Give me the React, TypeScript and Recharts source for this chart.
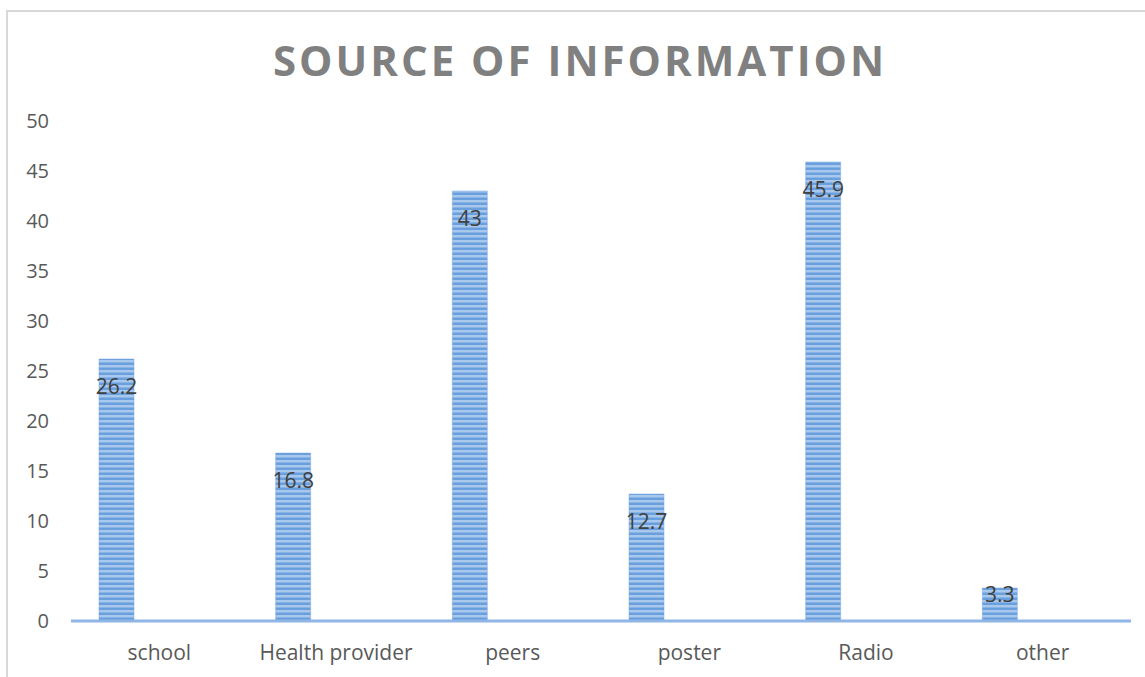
import React from "react";
import { BarChart, Bar, XAxis, YAxis, LabelList } from "recharts";

const categories = ["school", "Health provider", "peers", "poster", "Radio", "other"];
const percentValues = [26.2, 16.8, 43, 12.7, 45.9, 3.3];
const yTicks = [0, 5, 10, 15, 20, 25, 30, 35, 40, 45, 50];

const rows = categories.map((name, i) => ({
  name,
  value: percentValues[i],
  blank: null,
}));

const FONT = "'Open Sans', 'Noto Sans', sans-serif";

// Excel's "inside end" label: a little under the top, pushed up for short bars
function ValueLabel(props: any) {
  const { x, y, width, height, value } = props;
  const bottom = y + height;
  const cy = Math.min(y + 27, bottom - 27);
  return (
    <text
      x={x + width / 2}
      y={cy}
      textAnchor="middle"
      dominantBaseline="central"
      fill="#404040"
      fontSize={21}
      fontFamily={FONT}
    >
      {value}
    </text>
  );
}

export default function App() {
  return (
    <div
      style={{
        position: "absolute",
        left: 0,
        top: 0,
        width: 1145,
        height: 677,
        background: "#fff",
        overflow: "hidden",
      }}
    >
      <div
        style={{
          position: "absolute",
          left: 6,
          top: 10,
          width: 1160,
          height: 700,
          border: "2px solid #d9d9d9",
        }}
      />
      <div
        style={{
          position: "absolute",
          left: 0,
          top: 32,
          width: 1160,
          textAlign: "center",
          fontFamily: FONT,
          fontWeight: 700,
          fontSize: 42,
          letterSpacing: 3,
          color: "#808080",
          lineHeight: "56px",
        }}
      >
        SOURCE OF INFORMATION
      </div>
      <BarChart
        width={1145}
        height={677}
        data={rows}
        margin={{ top: 121, right: 14, bottom: 26, left: 11 }}
        barSize={35}
        barGap={51}
        style={{ position: "absolute", left: 0, top: 0 }}
      >
        <defs>
          <pattern id="stripes" width="6" height="5" patternUnits="userSpaceOnUse">
            <rect width="6" height="5" fill="#a8c8ee" />
            <rect y="2.5" width="6" height="2.5" fill="#6a9fdd" />
          </pattern>
        </defs>
        <XAxis
          dataKey="name"
          height={30}
          axisLine={{ stroke: "#8fb6e4", strokeWidth: 3 }}
          tickLine={false}
          tick={{ fill: "#595959", fontSize: 21, fontFamily: FONT }}
          tickMargin={18}
        />
        <YAxis
          domain={[0, 50]}
          ticks={yTicks}
          axisLine={false}
          tickLine={false}
          width={60}
          tick={{ fill: "#595959", fontSize: 20, fontFamily: FONT }}
          tickMargin={16}
        />
        <Bar dataKey="value" fill="url(#stripes)" stroke="#7aaae0" strokeWidth={0.5} isAnimationActive={false}>
          <LabelList dataKey="value" content={<ValueLabel />} />
        </Bar>
        <Bar dataKey="blank" fill="none" isAnimationActive={false} />
      </BarChart>
    </div>
  );
}
